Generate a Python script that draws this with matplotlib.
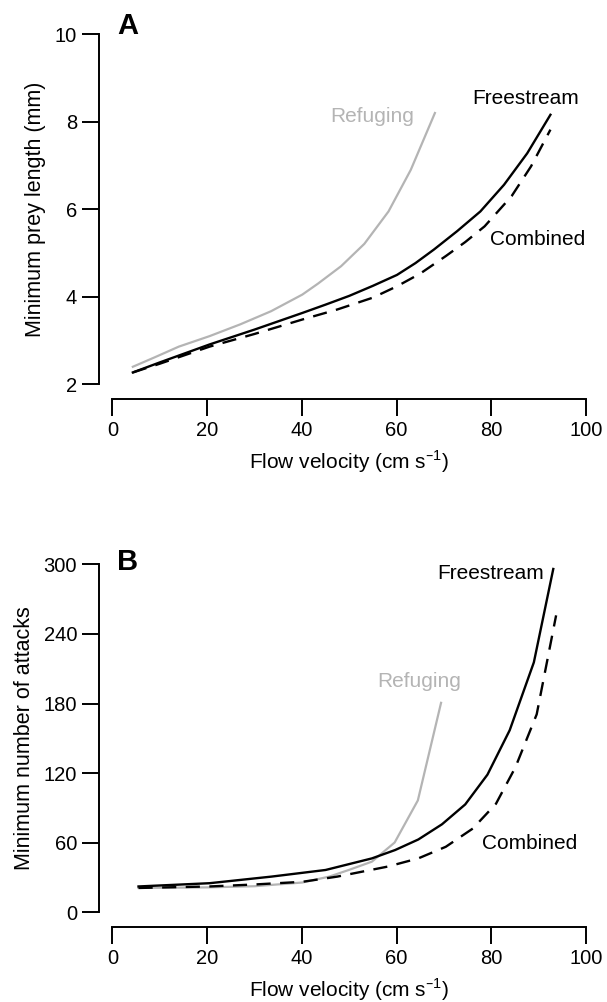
import matplotlib
matplotlib.use("Agg")
import matplotlib.pyplot as plt

plt.rcParams["font.family"] = ["Liberation Sans", "DejaVu Sans"]

# panel A: minimum prey length (mm)
a_free_x = [4.3, 10, 20.5, 30, 40.1, 45, 50, 55, 60.1, 64, 67.9, 72.8, 77.7, 82.7, 87.6, 92.5]
a_free_y = [2.27, 2.50, 2.91, 3.25, 3.63, 3.82, 4.02, 4.25, 4.50, 4.77, 5.08, 5.50, 5.95, 6.56, 7.28, 8.16]
a_comb_x = [4.3, 10, 20.5, 30, 40.1, 47.5, 55, 60.1, 65, 70.4, 74.5, 78.6, 84.3, 88.4, 92.5]
a_comb_y = [2.27, 2.47, 2.86, 3.15, 3.48, 3.71, 3.98, 4.24, 4.53, 4.93, 5.25, 5.61, 6.30, 6.98, 7.82]
a_ref_x = [4.3, 9, 14, 20.5, 27, 33.5, 40.1, 43.4, 48.3, 53.2, 58.3, 63.0, 68.1]
a_ref_y = [2.40, 2.62, 2.86, 3.10, 3.37, 3.67, 4.05, 4.30, 4.70, 5.21, 5.95, 6.90, 8.20]

# panel B: minimum number of attacks
b_free_x = [5.5, 20.5, 33.6, 45.0, 54.8, 59.7, 64.6, 69.6, 74.5, 79.2, 83.9, 89.0, 93.1]
b_free_y = [22.3, 25.1, 30.8, 36.5, 46.5, 53.7, 62.8, 75.9, 93.0, 118.7, 157, 215.5, 296]
b_comb_x = [5.5, 20.5, 30, 40.1, 47.5, 58.1, 64.6, 70.4, 76.1, 81.0, 85.1, 89.6, 93.7]
b_comb_y = [21, 22.3, 24, 26.3, 30.8, 39.4, 46.5, 56.5, 72.2, 93.6, 125, 170.7, 256]
b_ref_x = [5.5, 20, 30, 40.1, 45.8, 49.9, 54.8, 59.6, 64.5, 69.4]
b_ref_y = [21, 21.5, 22.5, 25.7, 30.8, 36.5, 43.7, 60.2, 96.5, 180.6]

xticks = [0, 20, 40, 60, 80, 100]
a_yticks = [2, 4, 6, 8, 10]
b_yticks = [0, 60, 120, 180, 240, 300]

grey = "#b4b4b4"
fs = 15

fig = plt.figure(figsize=(6.07, 10.02), dpi=100)
axA = fig.add_axes([0.1853, 0.6165, 0.780, 0.3493])
axB = fig.add_axes([0.1853, 0.0895, 0.780, 0.3473])


def style(ax, yticks, ylabel):
    for s in ["top", "right"]:
        ax.spines[s].set_visible(False)
    ax.spines["left"].set_position(("outward", 9.5))
    ax.spines["bottom"].set_position(("outward", 10.6))
    ax.spines["left"].set_bounds(yticks[0], yticks[-1])
    ax.spines["bottom"].set_bounds(0, 100)
    for s in ["left", "bottom"]:
        ax.spines[s].set_linewidth(1.4)
    ax.set_xlim(0, 100)
    ax.set_ylim(yticks[0], yticks[-1])
    ax.set_xticks(xticks)
    ax.set_yticks(yticks)
    ax.tick_params(direction="out", length=12, width=1.4, labelsize=fs - 0.5, pad=4)
    ax.set_xlabel(r"Flow velocity (cm s$^{\mathregular{–1}}$)", fontsize=fs, labelpad=6)
    ax.set_ylabel(ylabel, fontsize=fs + 0.5, labelpad=6)


axA.plot(a_ref_x, a_ref_y, color=grey, lw=1.6, clip_on=False)
axA.plot(a_free_x, a_free_y, color="black", lw=1.7, clip_on=False)
axA.plot(a_comb_x, a_comb_y, color="black", lw=1.7, dashes=(6, 4), clip_on=False)
style(axA, a_yticks, "Minimum prey length (mm)")
axA.text(63.8, 8.12, "Refuging", color=grey, fontsize=fs, ha="right", va="center")
axA.text(98.6, 8.54, "Freestream", color="black", fontsize=fs, ha="right", va="center")
axA.text(99.8, 5.32, "Combined", color="black", fontsize=fs, ha="right", va="center")
axA.text(1.0, 10.18, "A", fontsize=21, fontweight="bold", ha="left", va="center")

axB.plot(b_ref_x, b_ref_y, color=grey, lw=1.6, clip_on=False)
axB.plot(b_free_x, b_free_y, color="black", lw=1.7, clip_on=False)
axB.plot(b_comb_x, b_comb_y, color="black", lw=1.7, dashes=(6, 4), clip_on=False)
style(axB, b_yticks, "Minimum number of attacks")
axB.text(73.6, 199, "Refuging", color=grey, fontsize=fs, ha="right", va="center")
axB.text(91.2, 292.5, "Freestream", color="black", fontsize=fs, ha="right", va="center")
axB.text(98.2, 59.4, "Combined", color="black", fontsize=fs, ha="right", va="center")
axB.text(1.0, 302, "B", fontsize=21, fontweight="bold", ha="left", va="center")

fig.savefig("out.png", dpi=100)
